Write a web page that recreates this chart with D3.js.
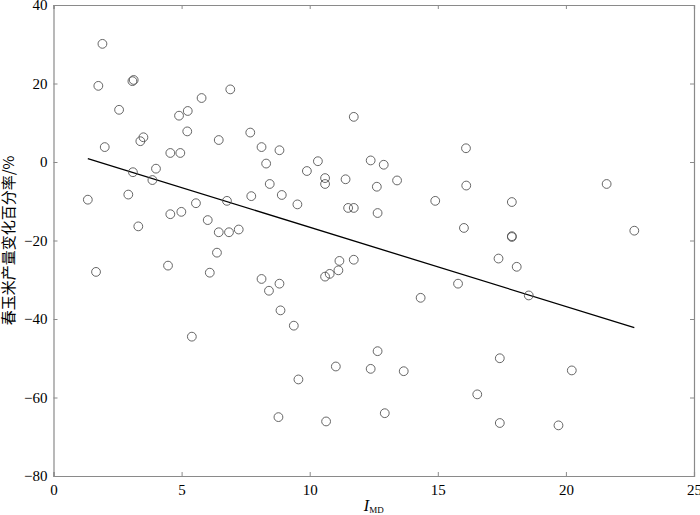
<!DOCTYPE html>
<html>
<head>
<meta charset="utf-8">
<script src="https://cdn.jsdelivr.net/npm/d3@7"></script>
<style>
  body { margin: 0; background: #fff; }
  svg { display: block; }
</style>
</head>
<body>
<svg id="viz" width="700" height="515"></svg>
<script>
// I_MD values and yield change (%)
const imd = [1.34, 1.91, 1.75, 2.0, 2.56, 3.08, 3.13, 2.92, 3.1, 3.39, 3.51, 3.31, 3.86, 4.0, 4.56, 4.95,
  4.56, 4.99, 4.9, 5.24, 5.22, 5.78, 5.56, 6.02, 6.45, 6.9, 6.77, 6.45, 6.85, 7.23, 7.68, 7.72,
  6.38, 1.66, 4.47, 6.1, 5.4, 11.72, 8.12, 8.82, 8.3, 10.32, 9.89, 10.6, 10.6, 11.4, 12.38, 12.89,
  13.41, 12.62, 8.44, 8.91, 9.52, 11.5, 11.72, 12.65, 14.9, 16.1, 16.11, 16.02, 11.16, 11.72, 11.12,
  10.6, 10.78, 8.12, 8.82, 8.41, 15.79, 14.33, 8.86, 9.38, 12.65, 11.02, 12.38, 13.67, 9.56, 8.78,
  10.64, 12.93, 17.89, 17.89, 17.89, 17.37, 18.08, 18.55, 21.59, 22.67, 17.42, 20.23, 16.54, 17.42, 19.71];
const change = [-9.6, 30.1, 19.4, 3.8, 13.3, 20.6, 20.9, -8.3, -2.6, 5.3, 6.3, -16.4, -4.6, -1.7, 2.3, 2.3,
  -13.3, -12.7, 11.8, 13.0, 7.8, 16.3, -10.5, -14.8, 5.6, 18.5, -9.9, -17.9, -17.9, -17.2, 7.5, -8.7,
  -23.1, -28.0, -26.4, -28.2, -44.5, 11.5, 3.8, 3.0, -0.4, 0.2, -2.3, -4.1, -5.6, -4.4, 0.4, -0.7,
  -4.7, -6.3, -5.6, -8.4, -10.8, -11.7, -11.7, -13.0, -9.9, 3.5, -6.0, -16.8, -25.2, -24.9, -27.6,
  -29.2, -28.5, -29.8, -31.0, -32.8, -31.0, -34.6, -37.8, -41.7, -48.2, -52.1, -52.7, -53.3, -55.4, -65.0,
  -66.1, -64.0, -10.2, -18.9, -19.1, -24.6, -26.7, -34.0, -5.6, -17.5, -50.0, -53.1, -59.2, -66.5, -67.1];

// fitted line end points
const fitX = [1.34, 22.67];
const fitY = [0.87, -42.2];

const xTicks = [0, 5, 10, 15, 20, 25];
const yTicks = [40, 20, 0, -20, -40, -60, -80];

const svg = d3.select("#viz");
const margin = { left: 53.5, right: 6, top: 5, bottom: 39 };
const width = +svg.attr("width");
const height = +svg.attr("height");

const x = d3.scaleLinear().domain([0, 25]).range([margin.left, width - margin.right]);
const y = d3.scaleLinear().domain([-80, 40]).range([height - margin.bottom, margin.top]);

const axisColor = "#8a8a8a";
const font = "'Liberation Serif', 'Times New Roman', serif";
const fmt = d => d < 0 ? "\u2212" + Math.abs(d) : d;

// box + inward ticks on all four sides
const gx = svg.append("g").attr("transform", `translate(0,${y(-80)})`)
  .call(d3.axisBottom(x).tickValues(xTicks).tickSize(-4).tickPadding(8).tickFormat(fmt));
const gy = svg.append("g").attr("transform", `translate(${x(0)},0)`)
  .call(d3.axisLeft(y).tickValues(yTicks).tickSize(-4).tickPadding(6).tickFormat(fmt));
const gt = svg.append("g").attr("transform", `translate(0,${y(40)})`)
  .call(d3.axisTop(x).tickValues(xTicks).tickSize(-4).tickFormat(""));
const gr = svg.append("g").attr("transform", `translate(${x(25)},0)`)
  .call(d3.axisRight(y).tickValues(yTicks).tickSize(-4).tickFormat(""));

[gx, gy, gt, gr].forEach(g => {
  g.select(".domain").attr("stroke", axisColor).attr("stroke-width", 1.2);
  g.selectAll(".tick line").attr("stroke", axisColor);
  g.selectAll(".tick text").attr("fill", "#000").style("font-family", font).style("font-size", "15px");
});

// regression line
svg.append("line")
  .attr("x1", x(fitX[0])).attr("y1", y(fitY[0]))
  .attr("x2", x(fitX[1])).attr("y2", y(fitY[1]))
  .attr("stroke", "#000").attr("stroke-width", 1.3);

// points
svg.append("g").selectAll("circle")
  .data(d3.zip(imd, change))
  .join("circle")
  .attr("cx", d => x(d[0]))
  .attr("cy", d => y(d[1]))
  .attr("r", 4.4)
  .attr("fill", "none")
  .attr("stroke", "#555")
  .attr("stroke-width", 0.9);

// y label
svg.append("text")
  .attr("transform", `translate(14,${(y(40) + y(-80)) / 2}) rotate(-90)`)
  .attr("text-anchor", "middle")
  .style("font-family", "'Noto Sans CJK SC', sans-serif")
  .style("font-size", "15px")
  .text("春玉米产量变化百分率/%");

// x label
const xl = svg.append("text")
  .attr("x", (x(0) + x(25)) / 2)
  .attr("y", 511)
  .attr("text-anchor", "middle")
  .style("font-family", font)
  .style("font-size", "16px");
xl.append("tspan").style("font-style", "italic").text("I");
xl.append("tspan").attr("dy", 2).style("font-size", "9px").text("MD");
</script>
</body>
</html>
